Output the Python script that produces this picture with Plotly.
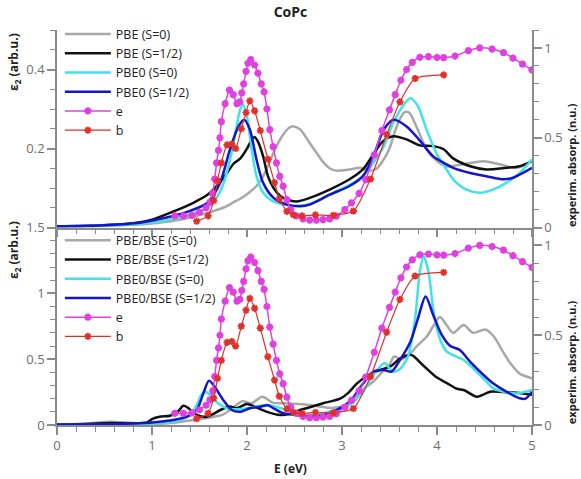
import plotly.graph_objects as go

# ---------------- data ----------------
# top panel (left axis, eps2 arb.u.)
E_pbe_s0 = [0, 0.5, 0.9, 1.2, 1.4, 1.58, 1.75, 1.86, 1.95, 2.03, 2.1, 2.16, 2.22, 2.28, 2.33, 2.38, 2.44, 2.49, 2.56, 2.66, 2.73, 2.8, 2.87, 2.94, 3.08, 3.19, 3.29, 3.36, 3.42, 3.5, 3.56, 3.61, 3.66, 3.71, 3.76, 3.82, 3.89, 4.0, 4.1, 4.28, 4.49, 4.66, 4.84, 5.0]
v_pbe_s0 = [0.003, 0.004, 0.008, 0.016, 0.025, 0.037, 0.05, 0.064, 0.076, 0.09, 0.105, 0.125, 0.155, 0.19, 0.215, 0.235, 0.252, 0.256, 0.248, 0.214, 0.19, 0.166, 0.15, 0.144, 0.147, 0.151, 0.144, 0.148, 0.165, 0.2, 0.245, 0.275, 0.292, 0.29, 0.268, 0.235, 0.198, 0.168, 0.155, 0.16, 0.168, 0.16, 0.151, 0.168]

E_pbe_s12 = [0, 0.4, 0.8, 1.0, 1.22, 1.43, 1.58, 1.7, 1.79, 1.86, 1.93, 2.0, 2.05, 2.08, 2.12, 2.17, 2.22, 2.28, 2.35, 2.42, 2.52, 2.66, 2.87, 3.08, 3.22, 3.33, 3.43, 3.54, 3.68, 3.82, 3.96, 4.07, 4.17, 4.35, 4.52, 4.73, 4.87, 5.0]
v_pbe_s12 = [0.003, 0.005, 0.011, 0.02, 0.04, 0.062, 0.082, 0.11, 0.138, 0.162, 0.175, 0.2, 0.222, 0.229, 0.215, 0.18, 0.13, 0.1, 0.08, 0.071, 0.066, 0.075, 0.096, 0.122, 0.147, 0.185, 0.218, 0.231, 0.223, 0.208, 0.206, 0.198, 0.175, 0.155, 0.147, 0.151, 0.155, 0.168]

E_pbe0_s0 = [0, 0.5, 0.9, 1.2, 1.4, 1.58, 1.68, 1.75, 1.82, 1.89, 1.93, 1.96, 2.0, 2.05, 2.1, 2.17, 2.25, 2.35, 2.45, 2.6, 2.75, 2.91, 3.12, 3.22, 3.33, 3.44, 3.54, 3.65, 3.72, 3.8, 3.89, 4.0, 4.1, 4.17, 4.31, 4.45, 4.59, 4.73, 4.87, 5.0]
v_pbe0_s0 = [0.003, 0.005, 0.01, 0.02, 0.033, 0.05, 0.075, 0.11, 0.17, 0.255, 0.3, 0.311, 0.28, 0.197, 0.13, 0.088, 0.07, 0.06, 0.056, 0.056, 0.068, 0.088, 0.113, 0.13, 0.164, 0.206, 0.265, 0.311, 0.327, 0.307, 0.248, 0.185, 0.147, 0.122, 0.096, 0.088, 0.096, 0.113, 0.138, 0.172]

E_pbe0_s12 = [0, 0.5, 0.87, 1.22, 1.4, 1.58, 1.716, 1.82, 1.91, 1.97, 2.03, 2.1, 2.17, 2.28, 2.42, 2.56, 2.66, 2.87, 3.08, 3.22, 3.33, 3.44, 3.54, 3.68, 3.82, 3.96, 4.1, 4.17, 4.35, 4.52, 4.7, 4.8, 5.0]
v_pbe0_s12 = [0.003, 0.006, 0.012, 0.029, 0.042, 0.062, 0.113, 0.197, 0.256, 0.273, 0.248, 0.172, 0.113, 0.075, 0.058, 0.054, 0.058, 0.083, 0.105, 0.13, 0.18, 0.248, 0.273, 0.256, 0.22, 0.18, 0.16, 0.151, 0.138, 0.13, 0.122, 0.126, 0.151]

# bottom panel (left axis, eps2 arb.u.)
E_bse_pbe_s0 = [0, 0.3, 0.56, 0.8, 1.0, 1.2, 1.4, 1.6, 1.75, 1.85, 1.95, 2.05, 2.16, 2.27, 2.4, 2.55, 2.66, 2.87, 3.0, 3.1, 3.22, 3.33, 3.42, 3.5, 3.55, 3.62, 3.7, 3.79, 3.89, 3.96, 4.03, 4.1, 4.17, 4.28, 4.38, 4.51, 4.6, 4.7, 4.77, 4.87, 5.0]
v_bse_pbe_s0 = [0.005, 0.01, 0.025, 0.015, 0.008, 0.015, 0.035, 0.055, 0.08, 0.13, 0.18, 0.165, 0.215, 0.17, 0.165, 0.16, 0.152, 0.13, 0.14, 0.17, 0.27, 0.33, 0.4, 0.46, 0.52, 0.5, 0.53, 0.6, 0.67, 0.75, 0.82, 0.76, 0.7, 0.76, 0.7, 0.725, 0.67, 0.55, 0.47, 0.39, 0.355]

E_bse_pbe_s12 = [0, 0.3, 0.56, 0.8, 0.95, 1.0, 1.08, 1.19, 1.27, 1.33, 1.38, 1.44, 1.52, 1.58, 1.65, 1.72, 1.82, 1.89, 2.0, 2.08, 2.21, 2.35, 2.45, 2.56, 2.66, 2.8, 2.98, 3.06, 3.15, 3.26, 3.4, 3.51, 3.61, 3.73, 3.85, 4.0, 4.1, 4.21, 4.28, 4.42, 4.5, 4.56, 4.7, 4.84, 5.0]
v_bse_pbe_s12 = [0.005, 0.008, 0.015, 0.012, 0.02, 0.045, 0.063, 0.07, 0.1, 0.147, 0.13, 0.09, 0.065, 0.063, 0.085, 0.114, 0.14, 0.127, 0.16, 0.14, 0.1, 0.076, 0.085, 0.114, 0.135, 0.165, 0.2, 0.24, 0.31, 0.37, 0.418, 0.445, 0.505, 0.532, 0.456, 0.36, 0.32, 0.275, 0.266, 0.215, 0.235, 0.253, 0.25, 0.245, 0.23]

E_bse_pbe0_s0 = [0, 0.5, 0.9, 1.1, 1.3, 1.4, 1.47, 1.52, 1.56, 1.6, 1.68, 1.79, 1.9, 2.0, 2.1, 2.21, 2.35, 2.5, 2.66, 2.87, 3.08, 3.22, 3.33, 3.45, 3.53, 3.6, 3.65, 3.7, 3.77, 3.82, 3.86, 3.91, 3.96, 4.0, 4.05, 4.1, 4.17, 4.28, 4.38, 4.52, 4.59, 4.7, 4.84, 5.0]
v_bse_pbe0_s0 = [0.003, 0.004, 0.008, 0.015, 0.04, 0.08, 0.15, 0.23, 0.253, 0.235, 0.175, 0.125, 0.12, 0.127, 0.14, 0.152, 0.13, 0.09, 0.076, 0.1, 0.152, 0.253, 0.38, 0.47, 0.405, 0.42, 0.46, 0.53, 0.81, 1.17, 1.28, 1.166, 0.88, 0.73, 0.62, 0.56, 0.53, 0.494, 0.43, 0.33, 0.28, 0.253, 0.24, 0.266]

E_bse_pbe0_s12 = [0, 0.5, 0.87, 1.08, 1.22, 1.37, 1.47, 1.54, 1.6, 1.66, 1.75, 1.84, 1.93, 2.03, 2.14, 2.22, 2.28, 2.38, 2.52, 2.66, 2.87, 3.08, 3.21, 3.33, 3.44, 3.52, 3.61, 3.72, 3.8, 3.88, 3.96, 4.05, 4.14, 4.24, 4.35, 4.49, 4.59, 4.73, 4.87, 4.93, 5.0]
v_bse_pbe0_s12 = [0.003, 0.006, 0.013, 0.025, 0.038, 0.063, 0.114, 0.24, 0.337, 0.29, 0.19, 0.114, 0.101, 0.127, 0.139, 0.15, 0.127, 0.089, 0.076, 0.063, 0.089, 0.177, 0.304, 0.405, 0.418, 0.405, 0.494, 0.633, 0.81, 0.976, 0.836, 0.684, 0.6, 0.57, 0.48, 0.38, 0.317, 0.253, 0.203, 0.2, 0.253]

# experiment (right axis, n.u.) - same in both panels
E_e = [1.24, 1.33, 1.42, 1.50, 1.57, 1.61, 1.64, 1.66, 1.68, 1.70, 1.715, 1.73, 1.77, 1.815, 1.855, 1.895, 1.925, 1.945, 1.965, 1.99, 2.01, 2.04, 2.08, 2.115, 2.15, 2.18, 2.21, 2.24, 2.275, 2.31, 2.345, 2.38, 2.42, 2.46, 2.52, 2.59, 2.66, 2.73, 2.80, 2.87, 2.94, 3.03, 3.10, 3.18, 3.25, 3.34, 3.42, 3.50, 3.56, 3.62, 3.68, 3.74, 3.82, 3.91, 4.00, 4.07, 4.19, 4.33, 4.45, 4.58, 4.70, 4.80, 4.90, 5.0]
r_e = [0.065, 0.065, 0.068, 0.085, 0.11, 0.14, 0.19, 0.27, 0.36, 0.43, 0.50, 0.59, 0.69, 0.765, 0.74, 0.69, 0.70, 0.75, 0.80, 0.87, 0.915, 0.935, 0.905, 0.86, 0.80, 0.755, 0.66, 0.545, 0.45, 0.36, 0.285, 0.23, 0.155, 0.10, 0.065, 0.048, 0.041, 0.041, 0.044, 0.048, 0.063, 0.10, 0.137, 0.19, 0.267, 0.405, 0.54, 0.655, 0.74, 0.82, 0.88, 0.92, 0.948, 0.952, 0.947, 0.946, 0.955, 0.985, 1.0, 0.994, 0.974, 0.943, 0.91, 0.878]

E_b = [1.47, 1.59, 1.65, 1.69, 1.73, 1.79, 1.84, 1.88, 1.94, 1.99, 2.03, 2.08, 2.14, 2.22, 2.29, 2.34, 2.42, 2.49, 2.58, 2.72, 2.91, 3.12, 3.30, 3.47, 3.61, 3.77, 4.07]
r_b = [0.035, 0.065, 0.15, 0.26, 0.36, 0.46, 0.465, 0.44, 0.55, 0.64, 0.705, 0.65, 0.54, 0.38, 0.25, 0.16, 0.09, 0.07, 0.065, 0.07, 0.068, 0.092, 0.27, 0.517, 0.70, 0.83, 0.85]

top_names = ["PBE (S=0)", "PBE (S=1/2)", "PBE0 (S=0)", "PBE0 (S=1/2)"]
bot_names = ["PBE/BSE (S=0)", "PBE/BSE (S=1/2)", "PBE0/BSE (S=0)", "PBE0/BSE (S=1/2)"]

# ---------------- style ----------------
theory_colors = ["#a8a8a8", "#111111", "#3fe3e8", "#1414c8"]
E_COL = "#e040e0"
B_COL = "#e0302a"
AX_COL = "#8a8a8a"
TICK_FONT = dict(family="Open Sans", size=13, color="#6e6e6e")
LEG_FONT = dict(family="Open Sans", size=12.5, color="#222222")

fig = go.Figure()

top_sets = [(E_pbe_s0, v_pbe_s0), (E_pbe_s12, v_pbe_s12), (E_pbe0_s0, v_pbe0_s0), (E_pbe0_s12, v_pbe0_s12)]
bot_sets = [(E_bse_pbe_s0, v_bse_pbe_s0), (E_bse_pbe_s12, v_bse_pbe_s12), (E_bse_pbe0_s0, v_bse_pbe0_s0), (E_bse_pbe0_s12, v_bse_pbe0_s12)]

for (ex, vy), nm, c in zip(top_sets, top_names, theory_colors):
    fig.add_trace(go.Scatter(x=ex, y=vy, name=nm, mode="lines", line=dict(color=c, width=2.5, shape="spline", smoothing=0.8),
                             xaxis="x", yaxis="y", legend="legend"))

def exp_traces(xa, ya, lg):
    fig.add_trace(go.Scatter(x=E_e, y=r_e, name="e", mode="lines+markers",
                             line=dict(color=E_COL, width=1.5, shape="spline", smoothing=0.6),
                             marker=dict(symbol="asterisk-open", size=6, color=E_COL, line=dict(color=E_COL, width=2.2)),
                             xaxis=xa, yaxis=ya, legend=lg))
    fig.add_trace(go.Scatter(x=E_b, y=r_b, name="b", mode="lines+markers",
                             line=dict(color=B_COL, width=1.2, shape="spline", smoothing=0.6),
                             marker=dict(symbol="asterisk-open", size=6, color=B_COL, line=dict(color=B_COL, width=1.8)),
                             xaxis=xa, yaxis=ya, legend=lg))

exp_traces("x", "y2", "legend")

for (ex, vy), nm, c in zip(bot_sets, bot_names, theory_colors):
    fig.add_trace(go.Scatter(x=ex, y=vy, name=nm, mode="lines", line=dict(color=c, width=2.5, shape="spline", smoothing=0.8),
                             xaxis="x2", yaxis="y3", legend="legend2"))

exp_traces("x2", "y4", "legend2")

def xax(show_labels, anchor):
    return dict(range=[0, 5], anchor=anchor, domain=[0, 1], showline=True, linecolor=AX_COL, linewidth=1.5,
                ticks="outside", ticklen=8, tickwidth=1.5, tickcolor=AX_COL, tickmode="linear", tick0=0, dtick=1,
                minor=dict(dtick=0.2, tick0=0, ticklen=5, tickwidth=1.2, tickcolor=AX_COL, ticks="outside"),
                showticklabels=show_labels, tickfont=TICK_FONT, showgrid=False, zeroline=False, mirror=False, fixedrange=True)

def yax(rng, vals, text, minor_dt, domain=None, side="left", overlaying=None, anchor=None):
    d = dict(range=rng, showline=True, linecolor=AX_COL, linewidth=1.5, ticks="outside", ticklen=8, tickwidth=1.5,
             tickcolor=AX_COL, tickmode="array", tickvals=vals, ticktext=text,
             minor=dict(dtick=minor_dt, tick0=0, ticklen=5, tickwidth=1.2, tickcolor=AX_COL, ticks="outside"),
             tickfont=TICK_FONT, showgrid=False, zeroline=False, side=side, fixedrange=True)
    if domain is not None:
        d["domain"] = domain
    if overlaying is not None:
        d["overlaying"] = overlaying
    if anchor is not None:
        d["anchor"] = anchor
    return d

fig.update_layout(
    width=581, height=479,
    margin=dict(l=57, r=49, t=30, b=54, pad=0),
    paper_bgcolor="white", plot_bgcolor="white",
    font=dict(family="Open Sans", color="#222222"),
    title=dict(text="<b>CoPc</b>", x=0.5, xanchor="center", y=0.975, yanchor="middle", yref="container",
               font=dict(family="Open Sans", size=14, color="#222222")),
    xaxis=xax(False, "y"),
    xaxis2=xax(True, "y3"),
    yaxis=yax([0, 0.5], [0.2, 0.4], ["0.2", "0.4"], 0.05, domain=[0.5, 1.0], anchor="x"),
    yaxis2=yax([0, 1.1], [0, 0.5, 1], ["0", "0.5", "1"], 0.1, side="right", overlaying="y", anchor="x"),
    yaxis3=yax([0, 1.5], [0, 0.5, 1, 1.5], ["0", "0.5", "1", "1.5"], 0.1, domain=[0.0, 0.5], anchor="x2"),
    yaxis4=yax([0, 1.1], [0, 0.5, 1], ["0", "0.5", "1"], 0.1, side="right", overlaying="y3", anchor="x2"),
    legend=dict(x=0.006, y=1.027, xanchor="left", yanchor="top", bgcolor="rgba(0,0,0,0)", itemwidth=46,
                font=LEG_FONT, tracegroupgap=0),
    legend2=dict(x=0.006, y=0.505, xanchor="left", yanchor="top", bgcolor="rgba(0,0,0,0)", itemwidth=46,
                 font=LEG_FONT, tracegroupgap=0),
    showlegend=True,
)

TITLE_FONT = dict(family="Open Sans", size=12, color="#222222")
fig.add_annotation(text="<b>ε<sub>2</sub> (arb.u.)</b>", x=-0.0905, y=0.919, xref="paper", yref="paper",
                   textangle=-90, showarrow=False, font=TITLE_FONT, xanchor="center", yanchor="middle")
fig.add_annotation(text="<b>ε<sub>2</sub> (arb.u.)</b>", x=-0.0905, y=0.443, xref="paper", yref="paper",
                   textangle=-90, showarrow=False, font=TITLE_FONT, xanchor="center", yanchor="middle")
fig.add_annotation(text="<b>experim. absorp. (n.u.)</b>", x=1.082, y=0.658, xref="paper", yref="paper",
                   textangle=-90, showarrow=False, font=dict(family="Open Sans", size=11, color="#222222"),
                   xanchor="center", yanchor="middle")
fig.add_annotation(text="<b>experim. absorp. (n.u.)</b>", x=1.082, y=0.159, xref="paper", yref="paper",
                   textangle=-90, showarrow=False, font=dict(family="Open Sans", size=11, color="#222222"),
                   xanchor="center", yanchor="middle")
fig.add_annotation(text="<b>E (eV)</b>", x=0.4926, y=-0.109, xref="paper", yref="paper",
                   showarrow=False, font=TITLE_FONT, xanchor="center", yanchor="middle")

fig.write_html("out.html", config={"displayModeBar": False},
               post_script="document.body.style.margin='0';document.body.style.padding='0';")
